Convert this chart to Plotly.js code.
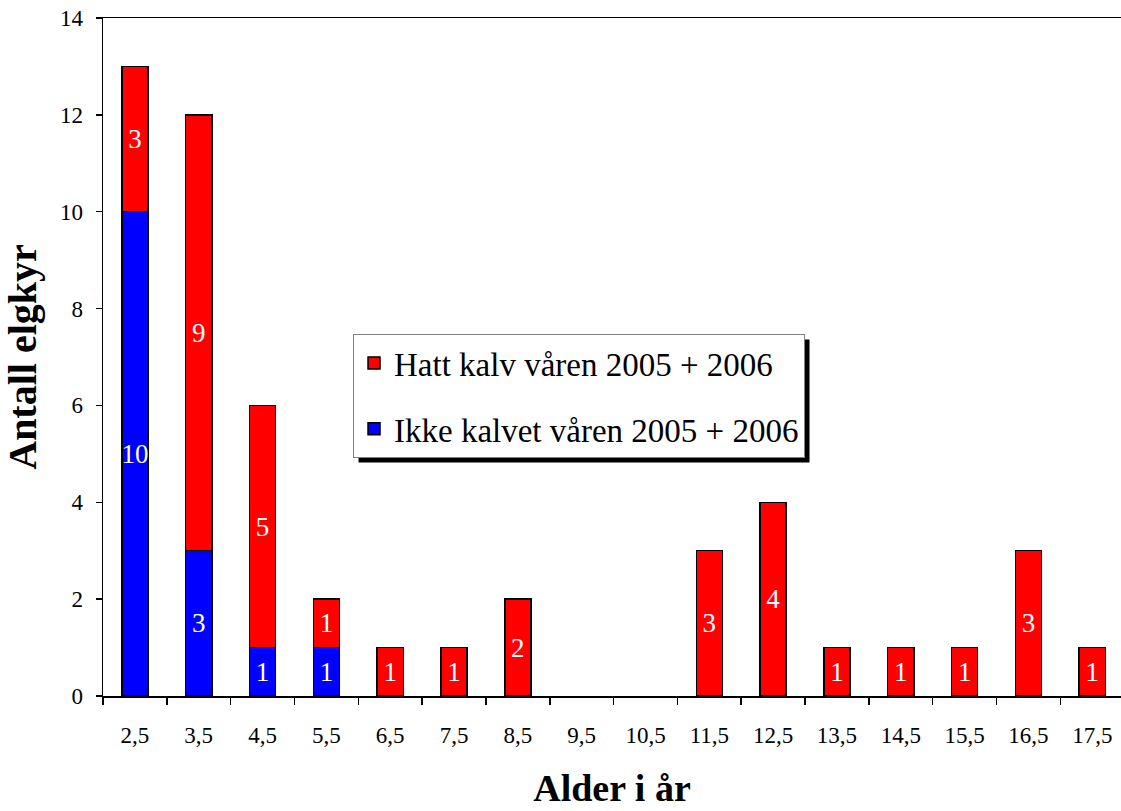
<!DOCTYPE html>
<html>
<head>
<meta charset="utf-8">
<script src="https://cdn.plot.ly/plotly-3.0.1.min.js"></script>
<style>
  html, body { margin: 0; padding: 0; background: #ffffff; overflow: hidden; }
  #chart { width: 1121px; height: 811px; }
</style>
</head>
<body>
<div id="chart"></div>
<script>
// Age classes (years)
const ageLabels = ['2,5', '3,5', '4,5', '5,5', '6,5', '7,5', '8,5', '9,5',
                   '10,5', '11,5', '12,5', '13,5', '14,5', '15,5', '16,5', '17,5'];
// Cows without calf in spring 2005 + 2006
const ikkeKalvet = [10, 3, 1, 1, 0, 0, 0, 0, 0, 0, 0, 0, 0, 0, 0, 0];
// Cows with calf in spring 2005 + 2006
const hattKalv   = [3, 9, 5, 1, 1, 1, 2, 0, 0, 3, 4, 1, 1, 1, 3, 1];

const serif = '"Liberation Serif"';
const labelOf = v => (v > 0 ? String(v) : '');
const heightOf = v => (v > 0 ? v : null);   // empty classes get no bar at all

const barCommon = {
  type: 'bar',
  x: ageLabels,
  textposition: 'inside',
  insidetextanchor: 'middle',
  textangle: 0,
  constraintext: 'none',
  insidetextfont: { family: serif, size: 27, color: '#ffffff' },
  hoverinfo: 'x+y+name'
};

const traces = [
  Object.assign({}, barCommon, {
    name: 'Ikke kalvet våren 2005 + 2006',
    y: ikkeKalvet.map(heightOf),
    text: ikkeKalvet.map(labelOf),
    legendgroup: 'ikke',
    legendrank: 2,
    marker: { color: '#0000ff', line: { color: '#000000', width: 1.5 } }
  }),
  Object.assign({}, barCommon, {
    name: 'Hatt kalv våren 2005 + 2006',
    y: hattKalv.map(heightOf),
    text: hattKalv.map(labelOf),
    legendgroup: 'hatt',
    legendrank: 1,
    marker: { color: '#ff0000', line: { color: '#000000', width: 1.5 } }
  })
];

const layout = {
  width: 1121,
  height: 811,
  margin: { l: 103, r: 0, t: 18, b: 115, pad: 0 },
  paper_bgcolor: '#ffffff',
  plot_bgcolor: '#ffffff',
  barmode: 'stack',
  bargap: 0.59,
  font: { family: serif, color: '#000000' },
  showlegend: true,
  legend: {
    x: 0.2456, y: 0.534, xanchor: 'left', yanchor: 'top',
    traceorder: 'grouped',
    tracegroupgap: 20,
    entrywidth: 420,
    entrywidthmode: 'pixels',
    bgcolor: '#ffffff',
    bordercolor: '#808080',
    borderwidth: 1,
    font: { family: serif, size: 33, color: '#000000' }
  },
  xaxis: {
    type: 'category',
    range: [-0.5, 15.45],
    tickson: 'boundaries',
    ticks: 'outside',
    ticklen: 7,
    tickwidth: 1.5,
    tickcolor: '#000000',
    showline: true,
    linecolor: '#000000',
    linewidth: 1.5,
    mirror: true,
    showgrid: false,
    zeroline: false,
    ticklabelstandoff: 18,
    tickfont: { family: serif, size: 23, color: '#000000' },
    title: {
      text: '<b>Alder i år</b>',
      font: { family: serif, size: 38, color: '#000000' },
      standoff: 27
    }
  },
  yaxis: {
    range: [0, 14],
    dtick: 2,
    ticks: 'outside',
    ticklen: 6,
    tickwidth: 1.5,
    tickcolor: '#000000',
    showline: true,
    linecolor: '#000000',
    linewidth: 1.5,
    showgrid: false,
    zeroline: false,
    ticklabelstandoff: 8,
    tickfont: { family: serif, size: 23, color: '#000000' },
    title: {
      text: '<b>Antall elgkyr</b>',
      font: { family: serif, size: 40, color: '#000000' },
      standoff: 16
    }
  }
};

Plotly.newPlot('chart', traces, layout, { displayModeBar: false, staticPlot: true }).then(gd => {
  // Drop shadow behind the legend box, placed from the rendered legend size
  const bg = gd.querySelector('.legend .bg');
  if (!bg) return;
  const fl = gd._fullLayout;
  const box = bg.getBoundingClientRect();
  const host = gd.getBoundingClientRect();
  const off = 5;
  const toX = px => (px - host.left - fl.margin.l) / fl._size.w;
  const toY = py => 1 - (py - host.top - fl.margin.t) / fl._size.h;
  Plotly.relayout(gd, {
    shapes: [{
      type: 'rect', xref: 'paper', yref: 'paper', layer: 'above',
      x0: toX(box.left + off), x1: toX(box.right + off),
      y0: toY(box.bottom + off), y1: toY(box.top + off),
      fillcolor: '#000000', line: { width: 0 }
    }]
  });
});
</script>
</body>
</html>
